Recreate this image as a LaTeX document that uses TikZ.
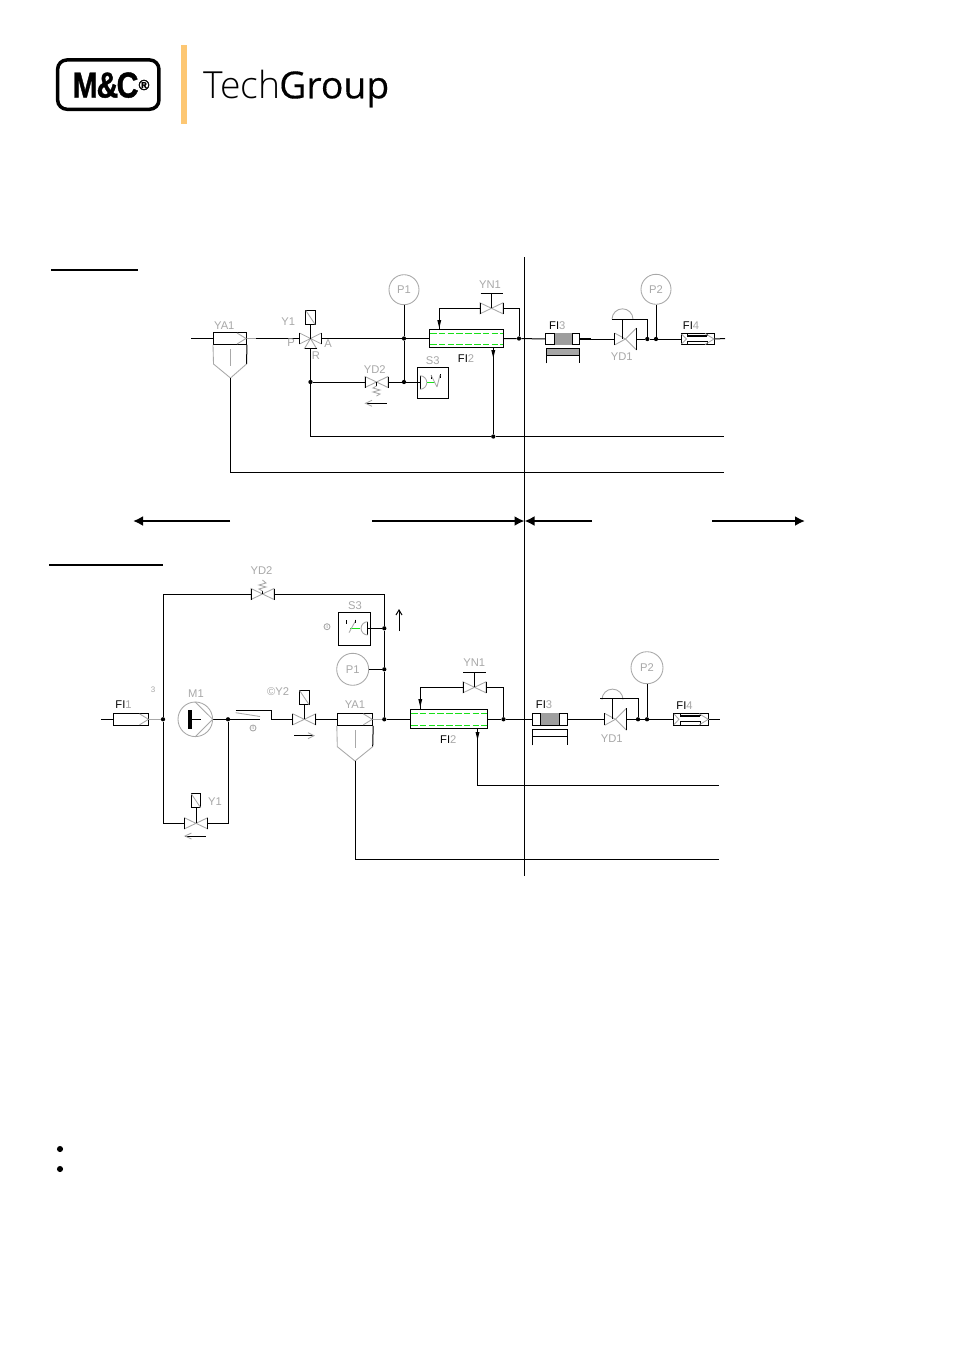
\documentclass[tikz,border=0pt]{standalone}
\usepackage{fontspec}
\setmainfont{Liberation Sans}
\newfontfamily\logolight{Open Sans}[UprightFont=* Light]
\newfontfamily\logobold{Open Sans}[FakeBold=0.3]
\newfontfamily\logoheavy{Liberation Sans}[UprightFont=* Bold,FakeBold=1.2]
\usetikzlibrary{arrows.meta,calc}
\definecolor{cad}{HTML}{A8A8A8}
\definecolor{cadgreen}{HTML}{18E018}
\definecolor{orbar}{HTML}{FDC773}
\newcommand{\G}[1]{\textcolor{cad}{#1}}
\tikzset{
  line/.style={draw=black,line width=0.75pt},
  gline/.style={draw=cad,line width=0.65pt},
  lbl/.style={font=\fontsize{8.4}{8.4}\selectfont,text=cad,inner sep=0pt},
  bx/.style 2 args={draw=black,line width=0.75pt,fill=white,rectangle,inner sep=0pt,minimum width=#1*0.75pt,minimum height=#2*0.75pt},
  gauge/.style={draw=cad,line width=0.65pt,circle,inner sep=0pt,minimum size=#1*0.75pt,font=\fontsize{8.4}{8.4}\selectfont,text=cad},
  jn/.style={circle,fill=black,inner sep=0pt,minimum size=3.2pt},
  big/.style={line width=1.5pt,-{Latex[length=7.5pt,width=7.5pt]}},
  greendash/.style={draw=cadgreen,line width=1.2pt,dash pattern=on 5pt off 1.6pt},
  pics/valve/.style={code={
    \coordinate (-c) at (0,0);
    \coordinate (-l) at (-11.5,0);
    \coordinate (-r) at (11.5,0);
    \draw[gline] (-11.5,-5.5)--(11.5,5.5)--(11.5,-5.5)--(-11.5,5.5)--cycle;
    \draw[line] (-11.5,-5.5)--(-11.5,5.5) (11.5,-5.5)--(11.5,5.5);
  }},
  pics/regulator/.style={code={
    \coordinate (-l) at (-11,0);
    \coordinate (-r) at (11,0);
    \coordinate (-s) at (-3,0);
    \draw[gline] (-11,-6)--(0,0)--(-11,6);
    \draw[gline] (11,-11)--(0,0)--(11,11);
    \draw[line] (-11,-6)--(-11,6);
    \draw[line] (11,-11)--(11,11);
    \draw[gline] (-13.5,-19.7) arc[start angle=180,end angle=360,radius=10.5];
  }},
  pics/solenoid/.style={code={
    \draw[line,fill=white] (-4.7,-7) rectangle (4.7,7);
    \draw[gline] (-4.7,-7)--(4.7,7);
  }},
  pics/chev/.style={code={\draw[gline] (-9,-5.5)--(0,0)--(-9,5.5);}},
  pics/flowl/.style={code={
    \draw[line] (-10.5,0)--(10.5,0);
    \draw[gline] (-4,-3)--(-10.5,0)--(-4,3);
  }},
  pics/flowr/.style={code={
    \draw[line] (-10,0)--(10,0);
    \draw[gline] (4,-3)--(10,0)--(4,3);
  }},
  pics/arrdown/.style={code={\fill[black] (-2,-5)--(2,-5)--(0,3)--cycle;}},
}
\begin{document}
\begin{tikzpicture}[x=0.75pt,y=-0.75pt]
\useasboundingbox (0,0) rectangle (954,1350);
\fill[white] (0,0) rectangle (954,1350);

% ---------- logo
\node[draw=black,line width=2.6pt,rounded corners=7pt,inner sep=0pt,minimum width=76pt,minimum height=37pt] (logobox) at (108.3,84.6) {};
\node[anchor=base,inner sep=0pt,xscale=0.84] (logomc) at (105.5,97.5) {\fontsize{27}{27}\logoheavy M\kern-1pt\&\kern-1.6pt C};
\node[font=\fontsize{11}{11}\logoheavy,inner sep=0pt] (logor) at (144,85) {®};
\fill[orbar] (180.7,45) rectangle (187.3,124);
\node[anchor=base west,inner sep=0pt,font=\fontsize{28}{28}\selectfont] (logotext) at (203.5,98.3) {{\logolight\kern-0.5pt Tech}{\logobold\kern-0.8pt Group}};

% ---------- separators
\coordinate (vt) at (524.5,257); \coordinate (vb) at (524.5,876);
\draw[line] (vt)--(vb);
\coordinate (ut1) at (51,270); \coordinate (ut2) at (138,270);
\draw[line width=1.3pt] (ut1)--(ut2);
\coordinate (ub1) at (49,565); \coordinate (ub2) at (163,565);
\draw[line width=1.3pt] (ub1)--(ub2);
\coordinate (a1s) at (230,521); \coordinate (a1e) at (133,521);
\coordinate (a2s) at (372,521); \coordinate (a2e) at (524.5,521);
\coordinate (a3s) at (592,521); \coordinate (a3e) at (524.5,521);
\coordinate (a4s) at (712,521); \coordinate (a4e) at (805,521);
\draw[big] (a1s)--(a1e);
\draw[big] (a2s)--(a2e);
\draw[big] (a3s)--(a3e);
\draw[big] (a4s)--(a4e);

% ---------- TOP DIAGRAM
\coordinate (tin) at (191,338.5);
\coordinate (tout) at (725,338.5);
\coordinate (t2out) at (724,436.5);
\coordinate (t3out) at (724,472.3);
\node[bx={33}{11.5}] (tya) at (230,338.5) {};
\node[bx={74}{17.5},fill=none] (tfi2) at (466.3,338.5) {};
\node[bx={33.5}{11.5}] (tfi3) at (562.7,339) {};
\node[bx={33}{11.5}] (tfi4) at (697.8,339) {};
\node[bx={31}{31}] (ts3) at (432.8,382.8) {};
\node[gauge=30] (tp1) at (404,289.7) {P1};
\node[gauge=30] (tp2) at (656,289.3) {P2};
\coordinate (ty1c) at (310.5,338.5);
\coordinate (ty1l) at (299.5,338.5);
\coordinate (ty1r) at (321.5,338.5);
\coordinate (ty1b) at (310.5,348.5);
\pic (tyd2) at (376.5,382) {valve};
\pic (tyn1) at (491.5,308.3) {valve};
\pic (tyd1) at (625.5,339) {regulator};
\pic at (310.5,317.5) {solenoid};
\node[jn] (tj1) at (404,338.5) {};
\node[jn] (tj2) at (404,382) {};
\node[jn] (tj3) at (310.5,382) {};
\node[jn] (tj4) at (519,338.5) {};
\node[jn] (tj5) at (493.3,436.5) {};
\node[jn] (tj6) at (647.3,339) {};
\node[jn] (tj7) at (656,339) {};
\coordinate (ttip) at (230.5,378);
\coordinate (trr) at (310.5,436.5);
\coordinate (tcl) at (439.3,308.3);
\coordinate (tsp) at (622.5,319.3);
\coordinate (tbar) at (647.3,319.3);

\draw[line] (tin)--(tya.west);
\draw[gline] (tya.east)--(256,338.5);
\draw[line] (256,338.5)--(ty1l);
% filter bowl
\draw[gline] (tya.south west)--(213.5,364)--(ttip);
\draw[line] (tya.south east)--(246.5,364);
\draw[gline] (246.5,364)--(ttip);
\draw[gline] (230,349)--(230,366);
\pic at (246,338.5) {chev};
% 3-way valve
\draw[gline] (299.5,333)--(321.5,344) (321.5,333)--(299.5,344)  (ty1c)--(304.5,348.5)--(316.5,348.5)--cycle;
\draw[line] (299.5,333)--(299.5,344) (321.5,333)--(321.5,344) (304.5,348.5)--(316.5,348.5);
\draw[line] (310.5,324.5)--(ty1c);
\draw[line] (ty1r)--(tj1)--(tfi2.west);
\draw[line] (tfi2.east)--(tj4)--(tfi3.west);
\draw[line] (ty1b)--(tj3)--(trr)--(tj5)--(t2out);
\draw[line] (tj3)--(tyd2-l);
\draw[line] (tyd2-r)--(tj2)--(ts3.west|-tj2);
\draw[line] (tp1)--(tj1)--(tj2);
\draw[line] (ttip)--(230.5,472.3)--(t3out);
% FI2
\draw[greendash] (430,333.5)--(503,333.5) (430,344.5)--(503,344.5);
\draw[line] (tj4)|-(tyn1-r);
\draw[line] (tyn1-l)--(tcl)--(tcl|-tfi2.north);
\pic at (439.3,325) {arrdown};
\draw[line] (tj5|-tfi2.south)--(tj5);
\pic at (493.3,355) {arrdown};
\draw[line] (491.5,293.3)--(491.5,308.3) (480.5,293.3)--(502.5,293.3);
% YD2 spring
\draw[line] (376.5,382)--(376.5,386);
\draw[gline] (376.5,386)--(373,388)--(380,390)--(373,392)--(380,394)--(376.5,396);
\pic at (376,403.3) {flowl};
% S3
\draw[line] (417.3,382)--(420,382);
\draw[line] (420,375.7)--(420,389.3);
\draw[gline] (420,375.7) arc[start angle=-90,end angle=90,radius=6.8];
\draw[cadgreen,line width=0.5pt] (427,382)--(435,382);
\draw[line] (431,375)--(431,378.5) (440,374)--(440,377.5);
\draw[gline] (431,375)--(437,387) (437,387)--(440,375);
% FI3
\fill[black!38] (554.7,333.3) rectangle (572.3,344.7);
\draw[line] (554.7,333.3)--(554.7,344.7) (572.3,333.3)--(572.3,344.7);
\draw[line] (tfi3.east)--(tyd1-l);
\draw[line width=1.3pt] (579.3,339)--(590.5,339);
\fill[black!35] (546,348.3) rectangle (579.3,355.7);
\draw[line] (546,363.3)--(546,348.3)--(579.3,348.3)--(579.3,363.3);
\draw[line] (546,355.7)--(579.3,355.7);
% YD1
\draw[line] (tyd1-s)--(tsp);
\draw[line] (612,319.3)--(tbar)--(tj6);
\draw[line] (tyd1-r)--(tj6)--(tj7)--(tfi4.west);
\draw[line] (tp2)--(tj7);
\draw[line] (tfi4.east)--(tout);
% FI4
\draw[line width=1.5pt] (687,335.8)--(707,335.8);
\draw[line] (687,341)--(707,341) (687,341)--(687,344.7) (707,341)--(707,344.7) (687,333.3)--(687,336) (707,333.3)--(707,336);
\draw[gline] (681.5,334)--(686.5,339)--(681.5,344);
\pic at (714,339) {chev};
% labels top
\node[lbl] (lt1) at (224.3,325.7) {YA1};
\node[lbl] (lt2) at (288.3,321.7) {Y1};
\node[lbl] (lt3) at (291,343) {P};
\node[lbl] (lt4) at (328,344) {A};
\node[lbl] (lt5) at (316,356) {R};
\node[lbl] (lt6) at (374.7,370) {YD2};
\node[lbl] (lt7) at (432.7,361) {S3};
\node[lbl] (lt8) at (490,285) {YN1};
\node[lbl,text=black] (lt9) at (466,358.3) {FI\G{2}};
\node[lbl,text=black] (lt10) at (557.3,326) {FI\G{3}};
\node[lbl] (lt11) at (621.7,357) {YD1};
\node[lbl,text=black] (lt12) at (691,326) {FI\G{4}};

% ---------- BOTTOM DIAGRAM
\coordinate (bin) at (101,719.3);
\coordinate (bout) at (720,719.3);
\coordinate (b2out) at (719,785);
\coordinate (b3out) at (719,859);
\node[bx={35.4}{12}] (bfi1) at (131,719.3) {};
\node[bx={35.4}{12}] (bya) at (355,719.3) {};
\node[bx={77}{19},fill=none] (bfi2) at (448.8,718.8) {};
\node[bx={35.4}{12}] (bfi3) at (550,719.3) {};
\node[bx={35}{12}] (bfi4) at (691.2,719.3) {};
\node[bx={32}{32.7}] (bs3) at (354.3,628.7) {};
\node[gauge=32] (bp1) at (352.7,669.3) {P1};
\node[gauge=32] (bp2) at (647,667.7) {P2};
\node[gauge=34.6] (bm1) at (195.3,719.3) {};
\pic (byd2) at (262.5,594) {valve};
\pic (by1) at (196,823.3) {valve};
\pic (by2) at (304.3,719.3) {valve};
\pic (byn1) at (474.5,687.3) {valve};
\pic (byd1) at (615.5,719.3) {regulator};
\pic at (196,800.8) {solenoid};
\pic at (304.3,697.5) {solenoid};
\node[jn] (bj1) at (163,719.3) {};
\node[jn] (bj2) at (228,719.3) {};
\node[jn] (bj3) at (384.3,719.3) {};
\node[jn] (bj4) at (384.3,669.3) {};
\node[jn] (bj5) at (384.3,628.3) {};
\node[jn] (bj6) at (503.5,719.3) {};
\node[jn] (bj7) at (638,719.3) {};
\node[jn] (bj8) at (647,719.3) {};
\coordinate (bt1) at (163,594);
\coordinate (bt2) at (384.3,594);
\coordinate (bb1) at (163,823.3);
\coordinate (bb2) at (228,823.3);
\coordinate (btip) at (355,761);
\coordinate (bcl) at (420.3,687.3);
\coordinate (bdn) at (477.5,785);

\draw[line] (bin)--(bfi1.west);
\draw[gline] (bfi1.east)--(bj1);
\pic at (148.5,719.3) {chev};
\draw[line] (bj1)--(bt1)--(byd2-l);
\draw[line] (byd2-r)--(bt2)--(bj5)--(bj4)--(bj3);
\draw[line] (bj1)--(bb1)--(by1-l);
\draw[line] (by1-r)--(bb2)--(bj2);
\draw[line] (bm1.east)--(bj2)--(260,719.3);
\draw[line] (235.7,710.7)--(271.7,710.7)--(271.7,719.3)--(by2-l);
\draw[gline] (235.7,712.7)--(260,716.5);
\draw[line] (by2-r)--(bya.west);
\draw[line] (196,807.8)--(196,823.3);
\draw[line] (304.3,704.5)--(304.3,719.3);
\draw[line] (byn1-l)--(bcl)--(bcl|-bfi2.north);
\pic at (420.3,704) {arrdown};
\draw[line] (474.5,672.7)--(474.5,687.3) (463.3,672.7)--(485.7,672.7);
% M1
\draw[gline] (195.3,702)--(212.7,719.3)--(195.3,736.6);
\fill[black!75] (188.7,710.7) rectangle (191,727.7);
\draw[line width=1.2pt] (188.7,710.7) rectangle (191,727.7);
\draw[line width=1.2pt] (191,719.3)--(200.7,719.3);
% filter
\draw[gline] (bya.south west)--(337.3,746.7)--(btip);
\draw[line] (bya.south east)--(372.7,746.7);
\draw[gline] (372.7,746.7)--(btip);
\draw[gline] (355,730)--(355,748);
\pic at (372.3,719.3) {chev};
\draw[gline] (bya.east)--(bj3);
\draw[line] (btip)--(355,859)--(b3out);
\draw[line] (bj3)--(bfi2.west|-bj3);
\draw[greendash] (411,713.5)--(487,713.5) (411,725.5)--(487,725.5);
\draw[line] (bfi2.east|-bj6)--(bj6)--(bfi3.west);
\draw[line] (bj6)|-(byn1-r);
\draw[line] (bdn|-bfi2.south)--(bdn)--(b2out);
\pic at (477.5,737) {arrdown};
% S3 bottom
\draw[line] (367.7,621.7)--(367.7,635);
\draw[gline] (367.7,621.7) arc[start angle=270,end angle=90,radius=6.65];
\draw[line] (367.7,628.3)--(bj5);
\draw[cadgreen,line width=0.5pt] (350,628.3)--(360,628.3);
\draw[line] (346,620)--(346,623.5) (355,619.5)--(355,623);
\draw[gline] (355,621.7)--(349,632.7);
\draw[line] (bp1)--(bj4);
% YD2 spring
\draw[line] (262.5,594)--(262.5,591);
\draw[gline] (262.5,591)--(259,589)--(266,587)--(259,585)--(266,583)--(262.5,580);
% flow arrows
\pic at (195.5,836) {flowl};
\pic at (304,735.7) {flowr};
\coordinate (bups) at (399,631); \coordinate (bupe) at (399,610);
\draw[line] (bups)--(bupe);
\draw[line] (396,615)--(bupe)--(402,615);
% FI3 bottom
\fill[black!38] (540.7,713.3) rectangle (559.7,725.3);
\draw[line] (540.7,713.3)--(540.7,725.3) (559.7,713.3)--(559.7,725.3);
\draw[line] (bfi3.east)--(byd1-l);
\draw[line] (532.3,745.3)--(532.3,729.3)--(567.7,729.3)--(567.7,745.3);
\draw[line] (532.3,736)--(567.7,736);
% YD1 bottom
\draw[line] (byd1-s)--(612.5,698.7);
\draw[line] (600,698.7)--(638,698.7)--(bj7);
\draw[line] (byd1-r)--(bj7)--(bj8)--(bfi4.west);
\draw[line] (bp2)--(bj8);
\draw[line] (bfi4.east)--(bout);
% FI4 bottom
\draw[line width=1.5pt] (680,716)--(700,716);
\draw[line] (680,721)--(700,721) (680,721)--(680,725.3) (700,721)--(700,725.3) (680,713.3)--(680,716) (700,713.3)--(700,716);
\draw[gline] (674,714)--(679,719.3)--(674,724.5);
\pic at (708.3,719.3) {chev};
% labels bottom
\node[lbl,text=black] (lb1) at (123.5,705) {FI\G{1}};
\node[lbl] (lb2) at (196,694) {M1};
\node[lbl] (lb3) at (261.5,571) {YD2};
\node[lbl] (lb4) at (355,606) {S3};
\node[lbl] (lb5) at (355,704.3) {YA1};
\node[lbl] (lb6) at (278,692) {©Y2};
\node[lbl] (lb7) at (215,802) {Y1};
\node[lbl] (lb8) at (474.3,663) {YN1};
\node[lbl,text=black] (lb9) at (448.3,739.3) {FI\G{2}};
\node[lbl,text=black] (lb10) at (544,705) {FI\G{3}};
\node[lbl] (lb11) at (611.7,738.3) {YD1};
\node[lbl,text=black] (lb12) at (684.5,705.5) {FI\G{4}};
\node[lbl,font=\fontsize{6}{6}\selectfont] (lb13) at (153,690) {3};
\node[gauge=6,font=\fontsize{3.5}{3.5}\selectfont] (lb14) at (253,728) {4};
\node[gauge=6,font=\fontsize{3.5}{3.5}\selectfont] (lb15) at (327,626.7) {4};

% ---------- bullets
\node[jn,minimum size=4.6pt] (b1) at (60,1149) {};
\node[jn,minimum size=4.6pt] (b2) at (60,1169) {};
\end{tikzpicture}
\end{document}
